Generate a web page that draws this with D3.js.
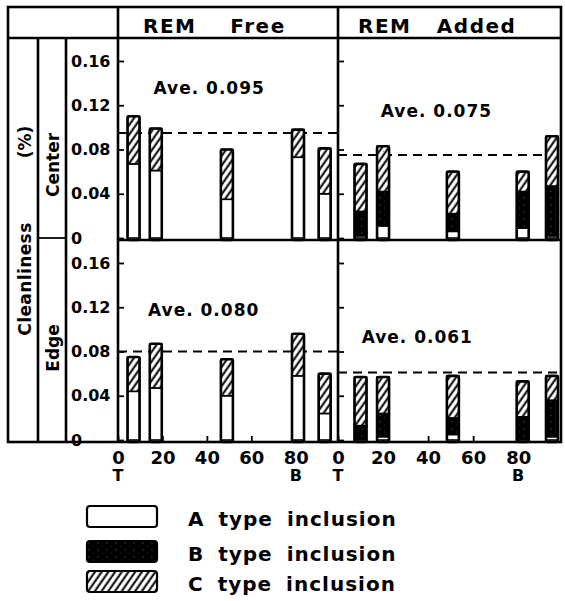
<!DOCTYPE html>
<html>
<head>
<meta charset="utf-8">
<script src="https://cdn.jsdelivr.net/npm/d3@7"></script>
<style>
  body { margin: 0; background: #fff; }
  svg text { font-family: "DejaVu Sans", sans-serif; font-weight: bold; fill: #000; }
</style>
</head>
<body>
<svg id="chart" width="565" height="601"></svg>
<script>
// sampling position along the ingot (%), T = top, B = bottom
var freePos  = [7, 17, 49, 81, 93];
var addedPos = [10, 20, 51, 82, 95];

// inclusion content (%) for each bar, by inclusion type
var freeCenterA  = [0.067, 0.061, 0.035, 0.073, 0.040];
var freeCenterB  = [0, 0, 0, 0, 0];
var freeCenterC  = [0.043, 0.038, 0.045, 0.025, 0.041];

var addedCenterA = [0.002, 0.011, 0.006, 0.009, 0.002];
var addedCenterB = [0.022, 0.031, 0.016, 0.033, 0.045];
var addedCenterC = [0.043, 0.041, 0.038, 0.018, 0.045];

var freeEdgeA    = [0.044, 0.047, 0.040, 0.058, 0.024];
var freeEdgeB    = [0, 0, 0, 0, 0];
var freeEdgeC    = [0.031, 0.040, 0.033, 0.038, 0.036];

var addedEdgeA   = [0, 0.003, 0.005, 0, 0.003];
var addedEdgeB   = [0.013, 0.021, 0.015, 0.021, 0.033];
var addedEdgeC   = [0.044, 0.033, 0.038, 0.032, 0.022];

// averages: [free center, added center, free edge, added edge]
var averages = [0.095, 0.075, 0.080, 0.061];

var columnTitles = ["REM    Free", "REM   Added"];
var rowTitles = ["Center", "Edge"];
var yTicks = [0, 0.04, 0.08, 0.12, 0.16];
var xTicks = [0, 20, 40, 60, 80];
var endLabels = [{v: 0, t: "T"}, {v: 80, t: "B"}];
var legendLabels = ["A type inclusion", "B type inclusion", "C type inclusion"];

// layout
var colX = [118, 338, 561];
var rowY = [38, 240, 442];
var topY = 7, leftX = 8, catX = 38, tickX = 66;

var svg = d3.select("#chart");

var defs = svg.append("defs");
var hatch = defs.append("pattern")
    .attr("id", "hatch")
    .attr("patternUnits", "userSpaceOnUse")
    .attr("width", 5.5).attr("height", 5.5)
    .attr("patternTransform", "rotate(35)");
hatch.append("rect").attr("width", 5.5).attr("height", 5.5).attr("fill", "#fff");
hatch.append("line").attr("x1", 1.5).attr("x2", 1.5).attr("y1", 0).attr("y2", 5.5)
    .attr("stroke", "#000").attr("stroke-width", 2);

var speck = defs.append("pattern")
    .attr("id", "speck")
    .attr("patternUnits", "userSpaceOnUse")
    .attr("width", 9).attr("height", 7);
speck.append("rect").attr("width", 9).attr("height", 7).attr("fill", "#000");
speck.append("circle").attr("cx", 2).attr("cy", 2).attr("r", 0.5).attr("fill", "#888");
speck.append("circle").attr("cx", 6.5).attr("cy", 5).attr("r", 0.4).attr("fill", "#666");

var fills = {a: "#fff", b: "url(#speck)", c: "url(#hatch)"};

function rows(pos, a, b, c) {
  return pos.map(function(p, i) { return {pos: p, a: a[i], b: b[i], c: c[i]}; });
}

var panels = [
  {col: 0, row: 0, data: rows(freePos, freeCenterA, freeCenterB, freeCenterC), avg: averages[0], lab: [16, 0.130]},
  {col: 1, row: 0, data: rows(addedPos, addedCenterA, addedCenterB, addedCenterC), avg: averages[1], lab: [19, 0.109]},
  {col: 0, row: 1, data: rows(freePos, freeEdgeA, freeEdgeB, freeEdgeC), avg: averages[2], lab: [13.5, 0.112]},
  {col: 1, row: 1, data: rows(addedPos, addedEdgeA, addedEdgeB, addedEdgeC), avg: averages[3], lab: [10.5, 0.088]}
];

var stack = d3.stack().keys(["a", "b", "c"]);
var barW = 12;

panels.forEach(function(p) {
  var x = d3.scaleLinear().domain([0, 99]).range([colX[p.col], colX[p.col + 1]]);
  var bottom = rowY[p.row + 1] - 2;
  var y = d3.scaleLinear().domain([0, 0.16]).range([bottom, bottom - 177]);
  var g = svg.append("g");

  // y ticks (inward)
  var yAxis = g.append("g")
      .attr("transform", "translate(" + colX[p.col] + ",0)")
      .call(d3.axisLeft(y).tickValues(yTicks).tickSize(-6)
        .tickFormat(function(d) { return d === 0 ? "0" : d.toFixed(2); }));
  yAxis.select(".domain").remove();
  yAxis.selectAll("line").attr("stroke-width", 1.8);
  if (p.col === 0) {
    yAxis.selectAll("text")
        .attr("x", -47)
        .attr("text-anchor", "start")
        .style("font-size", "16px")
        .style("font-family", "DejaVu Sans")
        .attr("fill", "#000");
  } else {
    yAxis.selectAll("text").remove();
  }

  // x ticks on bottom row
  if (p.row === 1) {
    var xAxis = g.append("g")
        .attr("transform", "translate(0," + rowY[2] + ")")
        .call(d3.axisBottom(x).tickValues(xTicks).tickSize(-6).tickPadding(9));
    xAxis.select(".domain").remove();
    xAxis.selectAll("line").attr("stroke-width", 1.8);
    xAxis.selectAll("text")
        .style("font-size", "18px")
        .style("font-family", "DejaVu Sans")
        .attr("fill", "#000");
    g.selectAll(".endlab")
      .data(endLabels)
      .enter().append("text")
        .attr("x", function(d) { return x(d.v); })
        .attr("y", 481)
        .attr("text-anchor", "middle")
        .style("font-size", "16px")
        .text(function(d) { return d.t; });
  }

  // average line
  g.append("line")
      .attr("x1", colX[p.col]).attr("x2", colX[p.col + 1])
      .attr("y1", y(p.avg)).attr("y2", y(p.avg))
      .attr("stroke", "#000").attr("stroke-width", 2)
      .attr("stroke-dasharray", "9,6");

  g.append("text")
      .attr("x", x(p.lab[0]))
      .attr("y", y(p.lab[1]))
      .style("font-size", "17px")
      .style("letter-spacing", "1px")
      .text("Ave. " + p.avg.toFixed(3));

  // stacked bars
  var series = stack(p.data);
  g.selectAll(".seg")
    .data(series)
    .enter().append("g")
      .attr("fill", function(s) { return fills[s.key]; })
    .selectAll("rect")
    .data(function(s) { return s.filter(function(d) { return d[1] > d[0]; }); })
    .enter().append("rect")
      .attr("x", function(d) { return x(d.data.pos) - barW / 2; })
      .attr("width", barW)
      .attr("y", function(d) { return y(d[1]); })
      .attr("height", function(d) { return y(d[0]) - y(d[1]); })
      .attr("stroke", "#000")
      .attr("stroke-width", 1.6);

  g.selectAll(".outline")
    .data(p.data)
    .enter().append("rect")
      .attr("x", function(d) { return x(d.pos) - barW / 2; })
      .attr("width", barW)
      .attr("y", function(d) { return y(d.a + d.b + d.c); })
      .attr("height", function(d) { return bottom + 2 - y(d.a + d.b + d.c); })
      .attr("rx", 2)
      .attr("fill", "none")
      .attr("stroke", "#000")
      .attr("stroke-width", 2.6);
});

// frame
var frame = svg.append("g").attr("stroke", "#000").attr("stroke-width", 2.6).attr("fill", "none");
frame.append("rect").attr("x", leftX).attr("y", topY).attr("width", colX[2] - leftX).attr("height", rowY[2] - topY);
frame.append("line").attr("x1", leftX).attr("x2", colX[2]).attr("y1", rowY[0]).attr("y2", rowY[0]);
frame.append("line").attr("x1", colX[0]).attr("x2", colX[2]).attr("y1", rowY[1]).attr("y2", rowY[1]);
frame.append("line").attr("x1", catX).attr("x2", tickX).attr("y1", rowY[1] - 2).attr("y2", rowY[1] - 2).attr("stroke-width", 1.8);
[colX[0], colX[1]].forEach(function(cx) {
  frame.append("line").attr("x1", cx).attr("x2", cx).attr("y1", topY).attr("y2", rowY[2]);
});
[catX, tickX].forEach(function(cx) {
  frame.append("line").attr("x1", cx).attr("x2", cx).attr("y1", rowY[0]).attr("y2", rowY[2]);
});

// column titles
svg.selectAll(".ctitle")
  .data(columnTitles)
  .enter().append("text")
    .attr("x", function(d, i) { return colX[i] + (i === 0 ? 25 : 20); })
    .attr("y", 33)
    .style("font-size", "20px")
    .style("letter-spacing", "1.5px")
    .style("white-space", "pre")
    .text(function(d) { return d; });

// row titles
svg.selectAll(".rtitle")
  .data(rowTitles)
  .enter().append("text")
    .attr("transform", function(d, i) { return "translate(" + 53 + "," + (i === 0 ? 165 : 348) + ") rotate(-90)"; })
    .attr("dy", "0.35em")
    .attr("text-anchor", "middle")
    .style("font-size", "17px")
    .text(function(d) { return d; });

svg.append("text")
    .attr("transform", "translate(25,279) rotate(-90)")
    .attr("dy", "0.35em")
    .attr("text-anchor", "middle")
    .style("font-size", "17px")
    .style("letter-spacing", "0.4px")
    .text("Cleanliness");
svg.append("text")
    .attr("transform", "translate(25,142) rotate(-90)")
    .attr("dy", "0.35em")
    .attr("text-anchor", "middle")
    .style("font-size", "17px")
    .text("(%)");

// legend
var legend = svg.selectAll(".leg")
  .data(legendLabels)
  .enter().append("g")
    .attr("transform", function(d, i) { return "translate(87," + [506, 541, 571][i] + ")"; });
legend.append("rect")
    .attr("width", 70).attr("height", 21).attr("rx", 3)
    .attr("fill", function(d, i) { return [fills.a, fills.b, fills.c][i]; })
    .attr("stroke", "#000").attr("stroke-width", 2.2);
legend.append("text")
    .attr("x", 101).attr("y", 20)
    .style("font-size", "20px")
    .style("letter-spacing", "1px")
    .style("word-spacing", "6px")
    .text(function(d) { return d; });
</script>
</body>
</html>
